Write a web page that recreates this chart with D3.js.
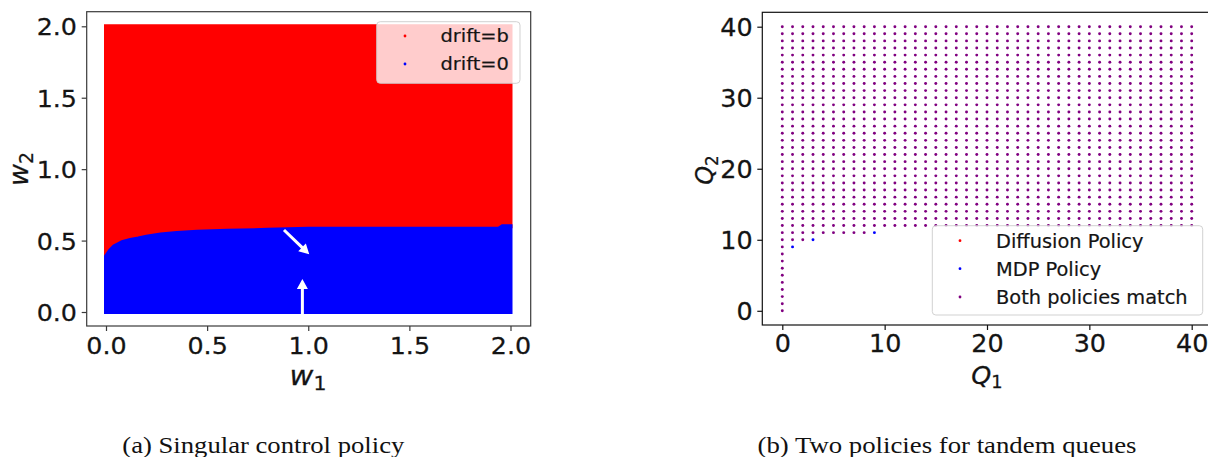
<!DOCTYPE html>
<html><head><meta charset="utf-8">
<script src="https://cdn.jsdelivr.net/npm/d3@7"></script>
<style>html,body{margin:0;padding:0;background:#fff;overflow:hidden}</style>
</head><body>
<svg id="c" width="1208" height="457"></svg>
<script>
// ---------- DATA ----------
// (a) boundary between drift=b (above) and drift=0 (below)
const w1Bound = [0.00, 0.01, 0.02, 0.04, 0.06, 0.08, 0.12, 0.16, 0.20, 0.27, 0.35, 0.45, 0.60, 0.80, 0.90, 1.00, 1.50, 1.94, 1.96, 2.00];
const w2Bound = [0.39, 0.41, 0.43, 0.46, 0.475, 0.49, 0.505, 0.515, 0.527, 0.543, 0.553, 0.561, 0.568, 0.575, 0.580, 0.582, 0.582, 0.582, 0.600, 0.600];
const wDomain = [0, 2];
const wTicks = [0.0, 0.5, 1.0, 1.5, 2.0];
const arrowFrom = [[0.880, 0.574], [0.971, -0.015]];
const arrowTo   = [[1.005, 0.404], [0.971, 0.231]];
const legendA = ["drift=b", "drift=0"];
const colorsA = ["#ff0000", "#0000ff"];

// (b) tandem queues: Q1 = 0..40, lowest Q2 at which both policies match (up to 40)
const q1Values   = [0,1,2,3,4,5,6,7,8,9,10,11,12,13,14,15,16,17,18,19,20,21,22,23,24,25,26,27,28,29,30,31,32,33,34,35,36,37,38,39,40];
const bothMinQ2  = [0,10,10,11,11,11,11,11,11,12,12,12,12,12,12,12,12,12,12,12,12,12,12,12,12,12,12,12,12,12,12,12,12,12,12,12,12,12,12,12,12];
const bothMaxQ2  = 40;
const mdpOnly       = [[1,9],[3,10],[9,11]];
const diffusionOnly = [];
const qDomain = [0, 40];
const qTicks = [0, 10, 20, 30, 40];
const legendB = ["Diffusion Policy", "MDP Policy", "Both policies match"];
const colorsB = ["#ff0000", "#0000ff", "#800080"];
const captions = ["(a) Singular control policy", "(b) Two policies for tandem queues"];

// ---------- DRAW ----------
const svg = d3.select("#c");
const FONT = "DejaVu Sans, sans-serif";
const INK = "#141414";

// scales
const xA = d3.scaleLinear().domain(wDomain).range([106, 510.5]);
const yA = d3.scaleLinear().domain(wDomain).range([312, 26.3]);
const xB = d3.scaleLinear().domain(qDomain).range([782.3, 1191.7]);
const yB = d3.scaleLinear().domain(qDomain).range([310.8, 26.7]);

const frameA = {x0: 86.7, x1: 530.7, y0: 11.7, y1: 326};
const frameB = {x0: 762.3, x1: 1215, y0: 12.3, y1: 325};

// ---- panel (a) ----
const bound = w1Bound.map((w, i) => [w, w2Bound[i]]);
const areaTop = d3.area().x(d => xA(d[0])).y0(d => yA(d[1])).y1(() => yA(wDomain[1]));
const areaBot = d3.area().x(d => xA(d[0])).y0(() => yA(wDomain[0])).y1(d => yA(d[1]));
svg.append("path").attr("d", areaTop(bound)).attr("fill", colorsA[0])
  .attr("stroke", colorsA[0]).attr("stroke-width", 4).attr("stroke-linejoin", "miter");
svg.append("path").attr("d", areaBot(bound)).attr("fill", colorsA[1])
  .attr("stroke", colorsA[1]).attr("stroke-width", 4).attr("stroke-linejoin", "miter");

// arrows
function arrowPath(p0, p1) {
  const dx = p1[0] - p0[0], dy = p1[1] - p0[1];
  const L = Math.hypot(dx, dy), ux = dx / L, uy = dy / L, nx = -uy, ny = ux;
  const hl = 10, hw = 5.5, sw = 1.5;
  const bx = p1[0] - ux * hl, by = p1[1] - uy * hl;
  const pts = [
    [p0[0] + nx * sw, p0[1] + ny * sw], [bx + nx * sw, by + ny * sw], [bx + nx * hw, by + ny * hw],
    p1, [bx - nx * hw, by - ny * hw], [bx - nx * sw, by - ny * sw], [p0[0] - nx * sw, p0[1] - ny * sw]];
  return "M" + pts.map(p => p[0].toFixed(2) + "," + p[1].toFixed(2)).join("L") + "Z";
}
arrowFrom.forEach((f, i) => {
  const t = arrowTo[i];
  svg.append("path").attr("d", arrowPath([xA(f[0]), yA(f[1])], [xA(t[0]), yA(t[1])]))
    .attr("fill", "#fff");
});

// frame
function frame(f, col) {
  svg.append("rect").attr("x", f.x0).attr("y", f.y0).attr("width", f.x1 - f.x0).attr("height", f.y1 - f.y0)
    .attr("fill", "none").attr("stroke", col).attr("stroke-width", 1.2);
}
frame(frameA, "#3a3a3a");

// axes
function styleText(sel, fs, sx) {
  sel.attr("font-size", fs).attr("font-family", FONT).attr("fill", INK)
    .attr("stroke", INK).attr("stroke-width", 0.25)
    .attr("transform", `scale(${sx},1)`);
}
function bottomAxis(scale, ticks, fmt, y, fs, sx, pad, col) {
  const g = svg.append("g").attr("transform", `translate(0,${y})`)
    .call(d3.axisBottom(scale).tickValues(ticks).tickFormat(fmt).tickSize(5).tickPadding(pad));
  g.select(".domain").remove();
  g.selectAll(".tick line").attr("stroke", col).attr("stroke-width", 1.2);
  styleText(g.selectAll(".tick text"), fs, sx);
}
function leftAxis(scale, ticks, fmt, x, fs, sx, off, col) {
  const g = svg.append("g").attr("transform", `translate(${x},0)`)
    .call(d3.axisLeft(scale).tickValues(ticks).tickFormat(fmt).tickSize(5));
  g.select(".domain").remove();
  g.selectAll(".tick line").attr("stroke", col).attr("stroke-width", 1.2);
  styleText(g.selectAll(".tick text"), fs, sx);
  g.selectAll(".tick text").attr("x", -off / sx).attr("dy", "0.36em");
}
const sxA = 1.08, sxB = 1.06;
bottomAxis(xA, wTicks, d3.format(".1f"), frameA.y1, 23.5, sxA, 6, "#3a3a3a");
leftAxis(yA, wTicks, d3.format(".1f"), frameA.x0, 23.5, sxA, 9.7, "#3a3a3a");

// legend
function legend(box, items, colors, mx, rows, tx, fs, sx) {
  svg.append("rect").attr("x", box.x).attr("y", box.y).attr("width", box.w).attr("height", box.h)
    .attr("rx", 3.5).attr("fill", "#fff").attr("fill-opacity", 0.8)
    .attr("stroke", "#cccccc").attr("stroke-opacity", 0.9).attr("stroke-width", 1);
  items.forEach((t, i) => {
    svg.append("circle").attr("cx", mx).attr("cy", rows[i]).attr("r", 1.4).attr("fill", colors[i]);
    svg.append("text").attr("transform", `translate(${tx},${rows[i]}) scale(${sx},1)`)
      .attr("dy", "0.36em").attr("font-size", fs).attr("font-family", FONT).attr("fill", INK)
      .attr("stroke", INK).attr("stroke-width", 0.2).text(t);
  });
}
legend({x: 376.7, y: 21.7, w: 143.3, h: 61.6}, legendA, colorsA, 405, [36, 64], 440.5, 18, sxA);

// axis labels
function mathLabel(x, y, base, sub, fs, rot, sx) {
  const t = svg.append("text")
    .attr("transform", `translate(${x},${y}) rotate(${rot}) scale(${sx},1)`)
    .attr("text-anchor", "middle").attr("font-family", FONT).attr("fill", INK)
    .attr("stroke", INK).attr("stroke-width", 0.25);
  t.append("tspan").attr("font-size", fs).attr("font-style", "italic").text(base);
  t.append("tspan").attr("font-size", fs * 0.7).attr("dy", fs * 0.2).text(sub);
}
mathLabel(308, 385, "w", "1", 27, 0, sxA);
mathLabel(28, 169, "w", "2", 27, -90, 1);

// ---- panel (b) ----
frame(frameB, "#111");
const both = [];
q1Values.forEach((q1, i) => {
  for (let q2 = bothMinQ2[i]; q2 <= bothMaxQ2; q2++) both.push([q1, q2]);
});
const dotR = 1.45;
svg.append("g").selectAll("circle").data(diffusionOnly).join("circle")
  .attr("cx", d => xB(d[0])).attr("cy", d => yB(d[1])).attr("r", dotR).attr("fill", colorsB[0]);
svg.append("g").selectAll("circle").data(mdpOnly).join("circle")
  .attr("cx", d => xB(d[0])).attr("cy", d => yB(d[1])).attr("r", dotR).attr("fill", colorsB[1]);
svg.append("g").selectAll("circle").data(both).join("circle")
  .attr("cx", d => xB(d[0])).attr("cy", d => yB(d[1])).attr("r", dotR).attr("fill", colorsB[2]);

bottomAxis(xB, qTicks, d3.format("d"), frameB.y1, 24, sxB, 5, "#111");
leftAxis(yB, qTicks, d3.format("d"), frameB.x0, 24, sxB, 9.6, "#111");

legend({x: 932.3, y: 225.7, w: 270.4, h: 89.3}, legendB, colorsB, 960, [240.7, 268.7, 297], 996, 19, 1.02);

mathLabel(987, 383.5, "Q", "1", 24, 0, sxB);
mathLabel(713, 170, "Q", "2", 24, -90, 1);

// captions
const capPos = [[122.3, 452.7, 282], [757.5, 452.7, 379]];
captions.forEach((c, i) => {
  svg.append("text").attr("x", capPos[i][0]).attr("y", capPos[i][1])
    .style("font-family", "'Liberation Serif', 'DejaVu Serif', serif").attr("font-size", 23.5).attr("fill", "#111")
    .attr("textLength", capPos[i][2]).attr("lengthAdjust", "spacingAndGlyphs").text(c);
});
</script>
</body></html>
